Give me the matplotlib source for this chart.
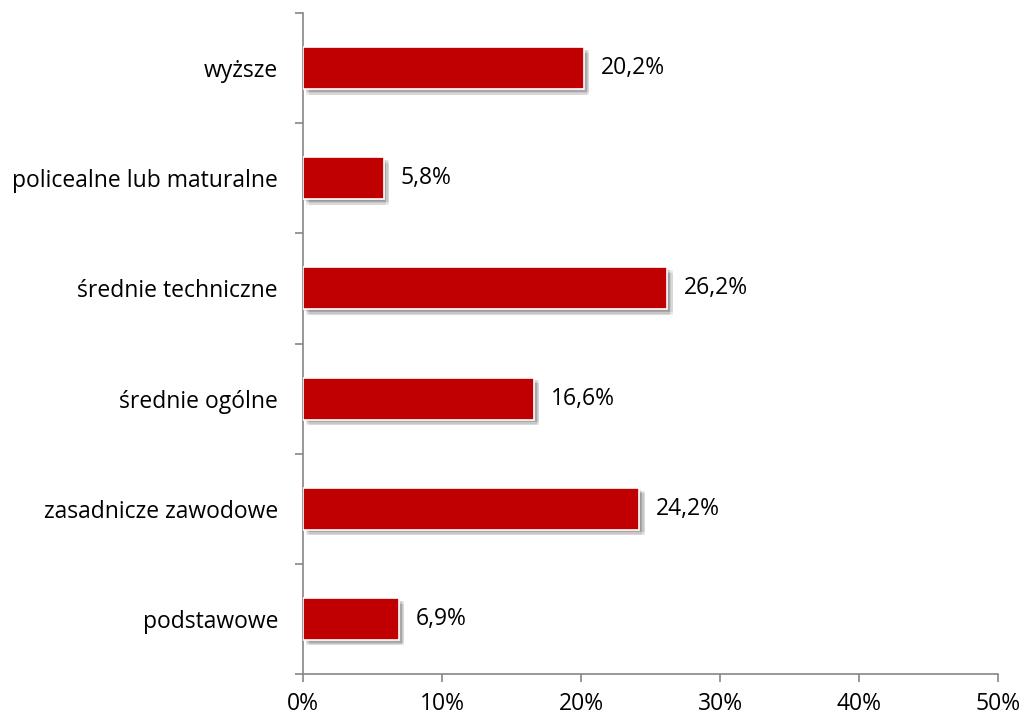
import matplotlib
matplotlib.use('Agg')
import matplotlib.pyplot as plt
import matplotlib.patheffects as pe
import numpy as np

categories = ['podstawowe', 'zasadnicze zawodowe', 'średnie ogólne',
              'średnie techniczne', 'policealne lub maturalne', 'wyższe']
values = [6.9, 24.2, 16.6, 26.2, 5.8, 20.2]
xticks = [0, 10, 20, 30, 40, 50]

plt.rcParams['font.family'] = ['Open Sans', 'DejaVu Sans']

fig = plt.figure(figsize=(10.23, 7.19), dpi=100)
ax = fig.add_axes([0.2962, 0.0626, 0.6794, 0.9193])

y = np.arange(len(categories))
bars = ax.barh(y, values, height=0.38, color='#C00000', edgecolor='white', linewidth=1.2,
               zorder=3)
# soft shadow: a few faint offset copies
shadow = [pe.SimplePatchShadow(offset=(dx, -dy), shadow_rgbFace='#000000', alpha=0.08)
          for dx, dy in [(1, 1), (2, 2), (3, 3), (4, 4), (2, 4), (4, 2)]]
for b in bars:
    b.set_path_effects(shadow + [pe.Normal()])

for yi, v in zip(y, values):
    ax.annotate('{:.1f}%'.format(v).replace('.', ','), (v, yi), xytext=(12, 0),
                textcoords='offset points', va='center', ha='left', fontsize=16.5, color='black')

ax.set_xlim(0, 50)
ax.set_ylim(-0.5, len(categories) - 0.5)
ax.set_xticks(xticks)
ax.set_xticklabels(['{}%'.format(t) for t in xticks], fontsize=16.5)
ax.set_yticks(y)
ax.set_yticklabels(categories, fontsize=16.5)
ax.set_yticks(np.arange(-0.5, len(categories)), minor=True)
ax.tick_params(axis='y', which='major', length=0, pad=18)
ax.tick_params(axis='y', which='minor', length=6, color='#868686', width=1.2)
ax.tick_params(axis='x', which='major', length=6, color='#868686', width=1.2, pad=7)

for s in ['top', 'right']:
    ax.spines[s].set_visible(False)
for s in ['left', 'bottom']:
    ax.spines[s].set_color('#868686')
    ax.spines[s].set_linewidth(1.2)

fig.savefig('out.png', dpi=100)
